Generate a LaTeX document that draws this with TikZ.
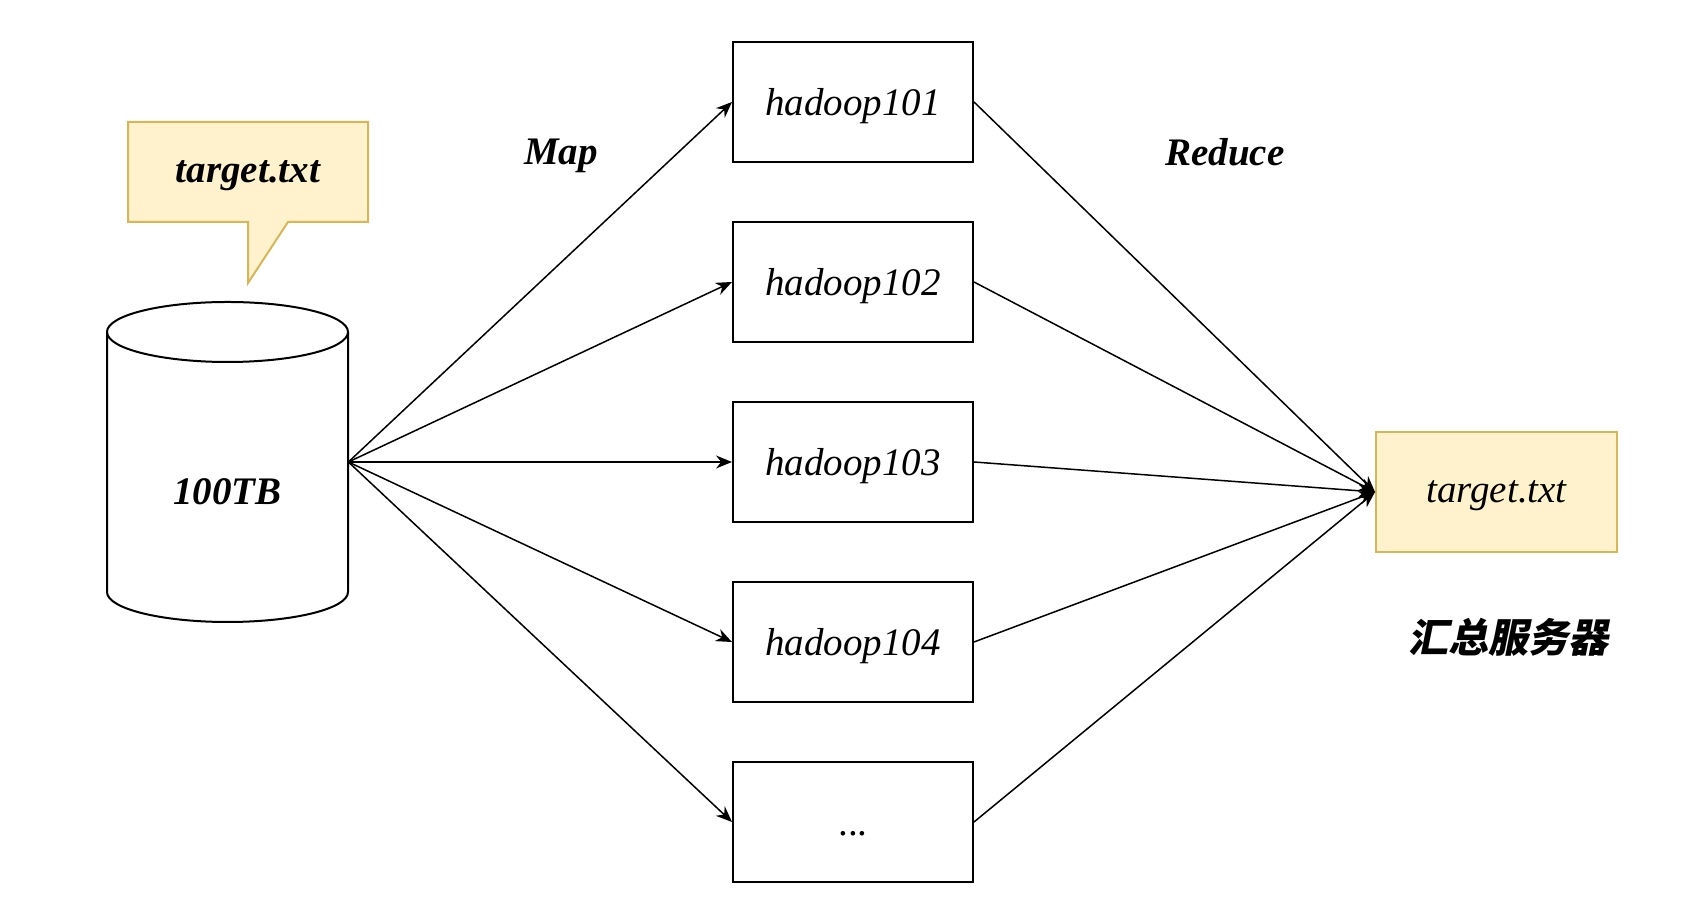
\documentclass[tikz,border=0pt]{standalone}
\usepackage{fontspec}
\setmainfont{Liberation Serif}
\newfontfamily\cjkfont[FakeSlant=0.2]{Noto Sans CJK SC}
\usetikzlibrary{arrows.meta}
\definecolor{notefill}{HTML}{FFF2CC}
\definecolor{noteline}{HTML}{D6B656}

\begin{document}
\begin{tikzpicture}[x=0.5pt,y=0.5pt,
  server/.style={draw, line width=1pt, minimum width=120pt, minimum height=60pt,
    inner sep=0pt, text depth=0pt, font=\fontsize{19.5}{23}\selectfont\itshape},
  flow/.style={-{Stealth[length=8pt,width=6.5pt]}, line width=0.75pt},
  tag/.style={text depth=0pt, font=\fontsize{19.5}{23}\selectfont\bfseries\itshape}]

% Page
\useasboundingbox (0,0) rectangle (1681,915);

% Data store (cylinder)
\node (db) [minimum width=120.5pt, minimum height=160pt, inner sep=0pt] at (227.5,453) {};
\draw[line width=1pt] (227.5,583) ellipse [x radius=120.5, y radius=30];
\draw[line width=1pt] (107,583) -- (107,323)
  arc[start angle=180, end angle=360, x radius=120.5, y radius=30] -- (348,583);
\node[tag] (dblabel) at (227.5,423) {100TB};

% Callout
\draw[noteline, fill=notefill, line width=1pt] (128,793) -- (368,793) -- (368,693)
  -- (288,693) -- (248,632) -- (248,693) -- (128,693) -- cycle;
\node[tag] (note) at (248,743) {target.txt};

% Worker nodes
\foreach \i/\y in {1/813,2/633,3/453,4/273}
  \node[server] (h\i) at (853,\y) {hadoop10\i};
\node[server, text height=13.3pt, font=\fontsize{19.5}{23}\selectfont] (h5) at (853,93) {...};

% Summary server
\node[server, draw=noteline, fill=notefill, minimum width=120.5pt] (sum) at (1496.5,423) {target.txt};

% Labels
\node[tag] (map) at (561,763) {Map};
\node[tag] (reduce) at (1225,763) {Reduce};
\node[font=\cjkfont\bfseries\fontsize{20}{24}\selectfont] (sumlabel) at (1508,278) {汇总服务器};

% Map and Reduce flows
\foreach \i in {1,...,5} {
  \draw[flow] (db.east) -- (h\i.west);
  \draw[flow] (h\i.east) -- (sum.west);
}

\end{tikzpicture}
\end{document}
